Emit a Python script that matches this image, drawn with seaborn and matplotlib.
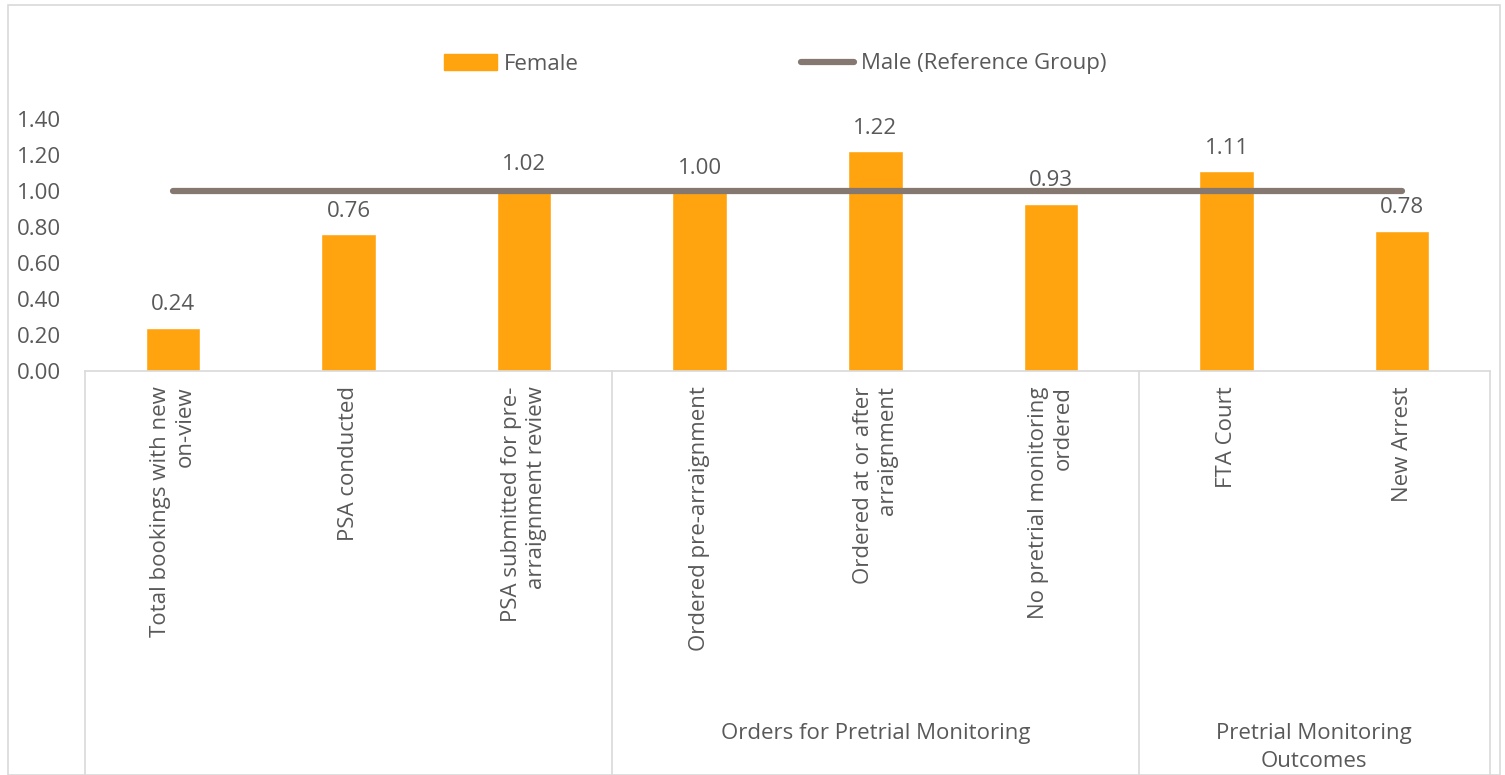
import numpy as np
import pandas as pd
import matplotlib
matplotlib.use('Agg')
import matplotlib.pyplot as plt
import seaborn as sns
from matplotlib.patches import Patch, Rectangle
from matplotlib.lines import Line2D

sns.set_style('white')
plt.rcParams['font.family'] = ['Open Sans', 'DejaVu Sans']

# ---- data ----
categories = ['Total bookings with new\non-view', 'PSA conducted',
              'PSA submitted for pre-\narraignment review', 'Ordered pre-arraignment',
              'Ordered at or after\narraignment', 'No pretrial monitoring\nordered',
              'FTA Court', 'New Arrest']
female = [0.24, 0.76, 1.02, 1.00, 1.22, 0.93, 1.11, 0.78]
male_ref = [1.00, 1.00, 1.00, 1.00, 1.00, 1.00, 1.00, 1.00]
groups = ['', 'Orders for Pretrial Monitoring', 'Pretrial Monitoring\nOutcomes']
group_sizes = [3, 3, 2]
yticks = [0.0, 0.2, 0.4, 0.6, 0.8, 1.0, 1.2, 1.4]

bar_color = '#FFA30F'
line_color = '#857870'
text_color = '#595959'
edge_grey = '#D9D9D9'
fs = 16

df = pd.DataFrame({'category': categories, 'Female': female, 'Male': male_ref})

W, H = 1505, 775
fig = plt.figure(figsize=(W / 100, H / 100), dpi=100)
ax = fig.add_axes([85 / W, (H - 371) / H, (1490 - 85) / W, (371 - 119) / H])
ax_h = 371 - 119

sns.barplot(data=df, x='category', y='Female', color=bar_color, width=0.31,
            saturation=1, ax=ax)
ax.plot(np.arange(len(categories)), df['Male'], color=line_color, lw=4.5,
        solid_capstyle='round', zorder=3)

# data labels
for i, v in enumerate(female):
    ax.annotate(f'{v:.2f}', (i, v), xytext=(0, 9), textcoords='offset points',
                ha='center', va='bottom', fontsize=fs, color=text_color)

ax.set_xlim(-0.5, len(categories) - 0.5)
ax.set_ylim(0, 1.4)
ax.set_yticks(yticks)
ax.set_yticklabels([f'{t:.2f}' for t in yticks], fontsize=fs, color=text_color)
ax.tick_params(axis='y', length=0, pad=17)
ax.tick_params(axis='x', length=0, pad=11)
ax.set_xticks(range(len(categories)))
ax.set_xticklabels(categories, rotation=90, fontsize=fs, color=text_color,
                   ha='center', va='top', multialignment='right')
ax.set_xlabel('')
ax.set_ylabel('')
for s in ['top', 'right', 'left']:
    ax.spines[s].set_visible(False)
ax.spines['bottom'].set_color(edge_grey)
ax.spines['bottom'].set_linewidth(1.2)

# multi-level category axis dividers and group labels
trans = ax.get_xaxis_transform()
bottom_y = -(H - 371) / ax_h
edges = np.concatenate([[0], np.cumsum(group_sizes)]) - 0.5
for e in edges:
    ax.add_line(Line2D([e, e], [0, bottom_y], transform=trans, color=edge_grey,
                       lw=1.2, clip_on=False))
for g, start, end in zip(groups, edges[:-1], edges[1:]):
    if g:
        ax.text((start + end) / 2, -(723 - 371) / ax_h, g, transform=trans,
                ha='center', va='top', fontsize=fs, color=text_color, linespacing=1.45)

# legend
handles = [Patch(color=bar_color, label='Female'),
           Line2D([0], [0], color=line_color, lw=4.5, label='Male (Reference Group)')]
fig.legend(handles=handles, loc='center', bbox_to_anchor=(775 / W, 1 - 64 / H), ncol=2,
           frameon=False, fontsize=fs, labelcolor=text_color, columnspacing=10,
           handlelength=2.4, handletextpad=0.3)

# chart border
fig.patches.append(Rectangle((8 / W, 0), (1500 - 8) / W, 1 - 5 / H,
                             transform=fig.transFigure, fill=False,
                             edgecolor=edge_grey, lw=1.2))

fig.savefig('out.png', dpi=100)
